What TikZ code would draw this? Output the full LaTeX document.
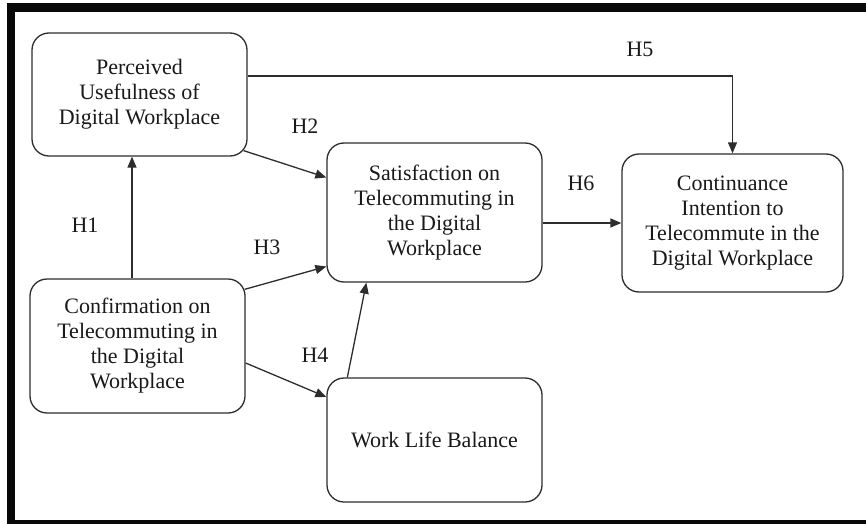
\documentclass[tikz,border=0pt]{standalone}
\usepackage{fontspec}
\setmainfont{Liberation Serif}
\usetikzlibrary{positioning,arrows.meta,calc}
\definecolor{FrameBlack}{RGB}{8,8,8}
\definecolor{LineGray}{RGB}{45,45,45}
\definecolor{TextGray}{RGB}{25,25,25}
\tikzset{
  flow/.style={-{Triangle[length=5.5pt,width=4.5pt]},line width=0.65pt,draw=LineGray},
  varbox/.style={draw=LineGray,line width=0.65pt,fill=white,rounded corners=8.5pt,
    minimum width=107.5pt,align=center,text=TextGray,
    font=\fontsize{11}{12.5}\selectfont},
  hyp/.style={text=TextGray,inner sep=0pt,font=\fontsize{11}{12.5}\selectfont}
}
\begin{document}
\begin{tikzpicture}[x=0.5pt,y=-0.5pt]
  \useasboundingbox (0,0) rectangle (866,524);
  % frame
  \fill[FrameBlack] (7,3) rectangle (866,12);
  \fill[FrameBlack] (7,3) rectangle (15,524);
  \fill[FrameBlack] (7,520) rectangle (866,524);
  % variables
  \node[varbox,minimum height=61.5pt] (perc) at (139.5,94.5) {Perceived\\Usefulness of\\Digital Workplace};
  \node[varbox,minimum height=67pt] (conf) at (137.5,346) {Confirmation on\\Telecommuting in\\the Digital\\Workplace};
  \node[varbox,minimum height=69.5pt] (sat) at (434.5,212.5) {Satisfaction on\\Telecommuting in\\the Digital\\Workplace};
  \node[varbox,minimum height=62pt] (wlb) at (434.5,440) {Work Life Balance};
  \node[varbox,minimum width=110.5pt,minimum height=69pt] (cont) at (732.5,223) {Continuance\\Intention to\\Telecommute in the\\Digital Workplace};
  % hypotheses
  \draw[flow] ([xshift=-2.75pt]conf.north) -- ([xshift=-2.75pt]conf.north |- perc.south);
  \draw[flow] ([shift={(-4,-6)}]perc.south east) -- ([shift={(0,-35)}]sat.west);
  \draw[flow] ([shift={(-1,11)}]conf.north east) -- ([shift={(0,54)}]sat.west);
  \draw[flow] ([shift={(0,17)}]conf.east) -- ([shift={(0,-43)}]wlb.west);
  \draw[flow] ([shift={(21,0)}]wlb.north west) -- ([shift={(40,0)}]sat.south west);
  \draw[flow] ([shift={(0,-18.5)}]perc.east) -| (cont.north);
  \draw[flow] (sat.east |- cont.west) -- (cont.west);
  \node[hyp] (h1) at (85,225) {H1};
  \node[hyp] (h2) at (305,126) {H2};
  \node[hyp] (h3) at (267,247) {H3};
  \node[hyp] (h4) at (315,355) {H4};
  \node[hyp] (h5) at (640,49) {H5};
  \node[hyp] (h6) at (581,183) {H6};
\end{tikzpicture}
\end{document}
